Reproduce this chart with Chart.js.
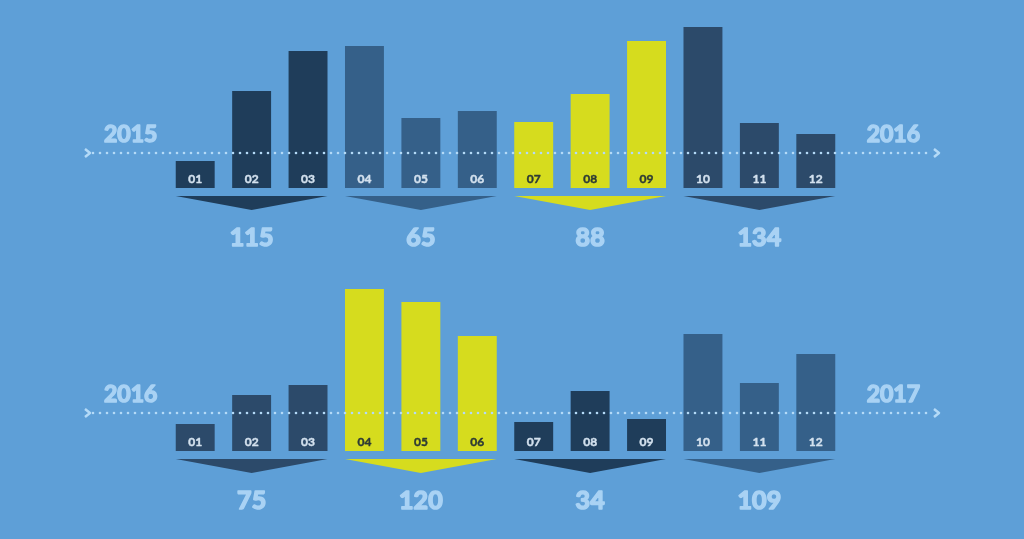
<!DOCTYPE html>
<html>
<head>
<meta charset="utf-8">
<script src="https://cdn.jsdelivr.net/npm/chart.js@4/dist/chart.umd.min.js"></script>
<style>
  html, body { margin: 0; padding: 0; background: #5e9fd7; }
  #wrap { width: 1024px; height: 539px; position: relative; overflow: hidden; }
  canvas { display: block; position: absolute; left: 0; }
  #top { top: 0; }
  #bottom { top: 270px; }
</style>
</head>
<body>
<div id="wrap">
  <canvas id="top" width="1024" height="270"></canvas>
  <canvas id="bottom" width="1024" height="269"></canvas>
</div>
<script>
// data
const months = ["01", "02", "03", "04", "05", "06", "07", "08", "09", "10", "11", "12"];
const values2015 = [27, 97, 137, 142, 70, 77, 66, 94, 147, 161, 65, 54];
const values2016 = [27, 56, 66, 162, 149, 115, 29, 60, 32, 117, 68, 97];
const totals2015 = [115, 65, 88, 134];
const totals2016 = [75, 120, 34, 109];
const years1 = ["2015", "2016"];
const years2 = ["2016", "2017"];

// colours per quarter
const navy = "#1f3d5a";
const slate = "#2c4a6a";
const steel = "#356089";
const yellow = "#d6dc1e";
const quarters1 = [navy, steel, yellow, slate];
const quarters2 = [slate, yellow, navy, steel];

const pale = "#a9d2f4";
const font = "Lato, 'DejaVu Sans', sans-serif";

function monthColors(quarters) {
  return months.map((m, i) => quarters[Math.floor(i / 3)]);
}

// heavier text: fill + thin stroke in the same colour
function heavyText(ctx, txt, x, y, w) {
  ctx.lineWidth = w;
  ctx.strokeStyle = ctx.fillStyle;
  ctx.lineJoin = "round";
  ctx.strokeText(txt, x, y);
  ctx.fillText(txt, x, y);
}

const decorPlugin = {
  id: "decor",
  afterDraw(chart, args, opts) {
    const ctx = chart.ctx;
    const bars = chart.getDatasetMeta(0).data;
    const base = bars[0].base;
    const cols = opts.quarters;

    ctx.save();
    // month labels inside bars
    ctx.font = "bold 12px " + font;
    ctx.textAlign = "center";
    ctx.textBaseline = "middle";
    bars.forEach((b, i) => {
      const c = cols[Math.floor(i / 3)];
      ctx.fillStyle = c == yellow ? "#2d3a35" : "#d3e1ee";
      heavyText(ctx, months[i], b.x, base - 9, 0.4);
    });

    // chevrons + quarter totals
    for (let q = 0; q < 4; q++) {
      const first = bars[q * 3];
      const last = bars[q * 3 + 2];
      const left = first.x - first.width / 2;
      const right = last.x + last.width / 2;
      const mid = (first.x + last.x) / 2;
      ctx.fillStyle = cols[q];
      ctx.beginPath();
      ctx.moveTo(left, base + 8);
      ctx.lineTo(right, base + 8);
      ctx.lineTo(mid, base + 22);
      ctx.closePath();
      ctx.fill();

      ctx.fillStyle = pale;
      ctx.font = "bold 25px " + font;
      heavyText(ctx, String(opts.totals[q]), mid, base + 50, 1.6);
    }

    // dotted timeline
    const ly = base - opts.lineOffset;
    ctx.fillStyle = "#b4daf7";
    for (let x = 93; x < 932; x += 7) {
      ctx.beginPath();
      ctx.arc(x, ly, 1.3, 0, Math.PI * 2);
      ctx.fill();
    }
    ctx.strokeStyle = "#b4daf7";
    ctx.lineWidth = 2.5;
    [85, 934].forEach((x) => {
      ctx.beginPath();
      ctx.moveTo(x, ly - 4);
      ctx.lineTo(x + 5, ly);
      ctx.lineTo(x, ly + 4);
      ctx.stroke();
    });

    // years
    ctx.fillStyle = pale;
    ctx.font = "bold 23px " + font;
    ctx.textAlign = "left";
    heavyText(ctx, opts.years[0], 104, ly - 18, 1.5);
    ctx.textAlign = "right";
    heavyText(ctx, opts.years[1], 920, ly - 18, 1.5);
    ctx.restore();
  }
};

function makeChart(id, values, quarters, totals, years, padTop, padBottom, lineOffset) {
  return new Chart(id, {
    type: "bar",
    data: {
      labels: months,
      datasets: [
        {
          data: values,
          backgroundColor: monthColors(quarters),
          borderWidth: 0,
          categoryPercentage: 1,
          barPercentage: 0.69,
        },
      ],
    },
    options: {
      responsive: false,
      animation: false,
      layout: { padding: { left: 167, right: 180, top: padTop, bottom: padBottom } },
      scales: {
        x: { display: false },
        y: { display: false, min: 0, max: 170 },
      },
      plugins: {
        legend: { display: false },
        tooltip: { enabled: false },
        decor: { quarters: quarters, totals: totals, years: years, lineOffset: lineOffset },
      },
    },
    plugins: [decorPlugin],
  });
}

makeChart("top", values2015, quarters1, totals2015, years1, 18, 82, 35);
makeChart("bottom", values2016, quarters2, totals2016, years2, 11, 88, 38);
</script>
</body>
</html>
